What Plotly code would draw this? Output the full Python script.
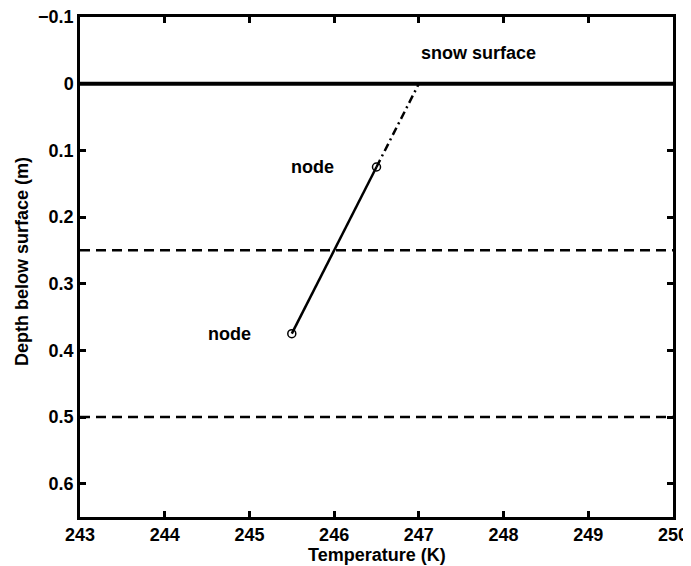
import plotly.graph_objects as go

# Data
seg_T = [245.5, 246.5]
seg_depth = [0.375, 0.125]
extrap_T = [246.5, 247.0]
extrap_depth = [0.125, 0.0]
surface_depth = 0.0
layer_depths = [0.25, 0.5]
x_range = [243, 250]
y_range = [-0.1, 0.65]
x_ticks = [243, 244, 245, 246, 247, 248, 249, 250]
y_ticks = [-0.1, 0, 0.1, 0.2, 0.3, 0.4, 0.5, 0.6]
y_ticklabels = ["\u22120.1", "0", "0.1", "0.2", "0.3", "0.4", "0.5", "0.6"]
labels = [("snow surface", 247.7, -0.046), ("node", 245.75, 0.125), ("node", 244.76, 0.375)]
x_title = "Temperature (K)"
y_title = "Depth below surface (m)"

FONT = "Liberation Sans, Arial, Helvetica, sans-serif"
FS = 18

fig = go.Figure()
fig.add_trace(go.Scatter(x=x_range, y=[surface_depth, surface_depth], mode="lines",
                         line=dict(color="black", width=4), showlegend=False, hoverinfo="skip"))
for d in layer_depths:
    fig.add_trace(go.Scatter(x=x_range, y=[d, d], mode="lines",
                             line=dict(color="black", width=2.5, dash="10px,6px"), showlegend=False))
fig.add_trace(go.Scatter(x=extrap_T, y=extrap_depth, mode="lines",
                         line=dict(color="black", width=2.5, dash="8px,4px,2px,4px"), showlegend=False))
fig.add_trace(go.Scatter(x=seg_T, y=seg_depth, mode="lines+markers",
                         line=dict(color="black", width=2.5),
                         marker=dict(symbol="circle-open", size=8, color="black", line=dict(width=1.5)),
                         showlegend=False))

for txt, xv, yv in labels:
    fig.add_annotation(x=xv, y=yv, text=txt, showarrow=False,
                       font=dict(family=FONT, size=FS, color="black", weight="bold"))

fig.add_annotation(xref="paper", yref="paper", x=0.5, y=0, yanchor="middle", yshift=-38,
                   text=x_title, showarrow=False,
                   font=dict(family=FONT, size=FS, color="black", weight="bold"))
fig.add_annotation(xref="paper", yref="paper", x=0, y=0.5, xanchor="center", xshift=-58, yshift=5,
                   textangle=-90, text=y_title, showarrow=False,
                   font=dict(family=FONT, size=FS, color="black", weight="bold"))

axis_common = dict(showgrid=False, zeroline=False, showline=True, linecolor="black", linewidth=2.5,
                   mirror="ticks", ticks="inside", ticklen=6, tickwidth=2.5, tickcolor="black",
                   automargin=False, ticklabeloverflow="allow",
                   tickfont=dict(family=FONT, size=FS, color="black", weight="bold"))

fig.update_xaxes(range=x_range, tickvals=x_ticks, **axis_common)
fig.update_yaxes(range=[y_range[1], y_range[0]], tickvals=y_ticks, ticktext=y_ticklabels,
                 **axis_common)

# page body has an 8px default margin, so the figure is sized/margined to compensate
fig.update_layout(width=683, height=558, margin=dict(l=72, r=18, t=9, b=49),
                  plot_bgcolor="white", paper_bgcolor="white")

fig.write_html("out.html")
